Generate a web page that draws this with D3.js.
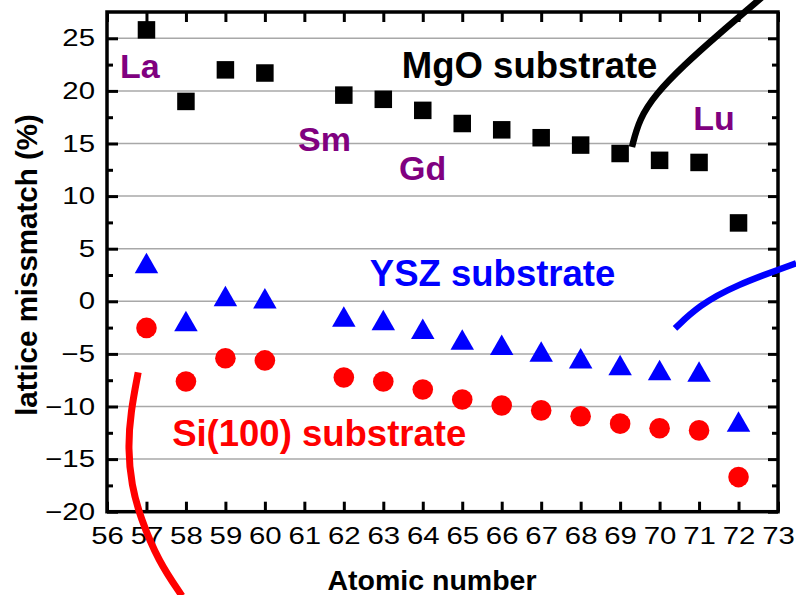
<!DOCTYPE html>
<html>
<head>
<meta charset="utf-8">
<script src="https://cdn.jsdelivr.net/npm/d3@7"></script>
<style>
  body { margin: 0; background: #fff; }
  svg { display: block; font-family: "Liberation Sans", Arial, sans-serif; }
</style>
</head>
<body>
<div id="chart"></div>
<script>
// data
const atomicNumbers = [57, 58, 59, 60, 62, 63, 64, 65, 66, 67, 68, 69, 70, 71, 72];
const mgoMismatch = [25.8, 19.0, 22.0, 21.7, 19.6, 19.2, 18.15, 16.9, 16.3, 15.55, 14.85, 14.05, 13.4, 13.2, 7.45];
const yszMismatch = [3.65, -1.87, 0.5, 0.3, -1.45, -1.77, -2.62, -3.64, -4.14, -4.77, -5.42, -6.05, -6.52, -6.68, -11.42];
const siMismatch = [-2.53, -7.63, -5.42, -5.62, -7.25, -7.63, -8.39, -9.34, -9.9, -10.37, -10.93, -11.63, -12.07, -12.27, -16.71];

const xTicks = d3.range(56, 74);
const yTicks = [-20, -15, -10, -5, 0, 5, 10, 15, 20, 25];
const yMinorTicks = [-17.5, -12.5, -7.5, -2.5, 2.5, 7.5, 12.5, 17.5, 22.5];

// element labels and substrate labels (data coords of text start / baseline)
const elementLabels = [
    {text: "La", x: 56.33, y: 21.26},
    {text: "Sm", x: 60.84, y: 14.33},
    {text: "Gd", x: 63.4, y: 11.57},
    {text: "Lu", x: 70.85, y: 16.32}
];
const substrateLabels = [
    {text: "MgO substrate", x: 63.47, y: 21.26, color: "#000000"},
    {text: "YSZ substrate", x: 62.66, y: 1.49, color: "#0000ff"},
    {text: "Si(100) substrate", x: 57.65, y: -13.72, color: "#ff0000"}
];

// hand drawn pointer curves (data coords)
const mgoCurve = [[69.3, 14.67], [69.48, 17.3], [69.9, 19.7], [70.6, 22.4], [71.5, 25.4], [72.5, 28.6], [73.0, 30.2]];
const yszCurve = [[70.39, -2.57], [71.0, -0.4], [71.9, 1.5], [73.46, 3.62]];
const siCurve = [[56.79, -6.76], [56.6, -10.5], [56.53, -14.0], [56.62, -17.5], [56.85, -20.6], [57.3, -24.7], [57.9, -28.0]];

const width = 796, height = 595;
const margin = {top: 12, right: 18, bottom: 83.3, left: 107};

const svg = d3.select("#chart")
    .append("svg")
    .attr("width", width)
    .attr("height", height);

const x = d3.scaleLinear()
    .domain([56, 73])
    .range([margin.left, width - margin.right]);

const y = d3.scaleLinear()
    .domain([-20, 27.5])
    .range([height - margin.bottom, margin.top]);

// gridlines
svg.append("g")
    .selectAll("line")
    .data(yTicks.filter(d => d > -20))
    .enter()
    .append("line")
        .attr("x1", x(56))
        .attr("x2", x(73))
        .attr("y1", d => y(d))
        .attr("y2", d => y(d))
        .attr("stroke", "#a8a8a8")
        .attr("stroke-width", 1.5);

// axes
const tickFont = 23.5;

const xAxis = svg.append("g")
    .attr("transform", `translate(0, ${y(-20)})`)
    .call(d3.axisBottom(x).tickValues(xTicks).tickSize(-10).tickPadding(16).tickFormat(d3.format("d")));

xAxis.selectAll("text")
    .attr("font-size", tickFont)
    .attr("fill", "#000")
    .each(function() {
        const t = d3.select(this);
        const yy = +t.attr("y");
        t.attr("y", null).attr("transform", `translate(0, ${yy}) scale(1.25, 1)`);
    });

const yAxis = svg.append("g")
    .attr("transform", `translate(${x(56)}, 0)`)
    .call(d3.axisLeft(y).tickValues(yTicks).tickSize(-11).tickPadding(12).tickFormat(d3.format("d")));

yAxis.selectAll("text")
    .attr("font-size", tickFont)
    .attr("fill", "#000")
    .each(function() {
        const t = d3.select(this);
        const xx = +t.attr("x");
        t.attr("x", null).attr("transform", `translate(${xx}, 0) scale(1.25, 1)`);
    });

svg.append("g")
    .attr("transform", `translate(${x(56)}, 0)`)
    .call(d3.axisLeft(y).tickValues(yMinorTicks).tickSize(-6).tickFormat(""));

svg.append("g")
    .attr("transform", `translate(${x(73)}, 0)`)
    .call(d3.axisRight(y).tickValues(yTicks).tickSize(-10).tickFormat(""));

svg.append("g")
    .attr("transform", `translate(${x(73)}, 0)`)
    .call(d3.axisRight(y).tickValues(yMinorTicks).tickSize(-6).tickFormat(""));

svg.append("g")
    .attr("transform", `translate(0, ${y(27.5)})`)
    .call(d3.axisTop(x).tickValues(xTicks).tickSize(-10).tickFormat(""));

svg.selectAll(".domain").remove();
svg.selectAll(".tick line").attr("stroke", "#000").attr("stroke-width", 3);

// frame
svg.append("rect")
    .attr("x", x(56))
    .attr("y", y(27.5))
    .attr("width", x(73) - x(56))
    .attr("height", y(-20) - y(27.5))
    .attr("fill", "none")
    .attr("stroke", "#000")
    .attr("stroke-width", 3.5);

// axis titles
svg.append("text")
    .attr("x", 432)
    .attr("y", 590)
    .attr("text-anchor", "middle")
    .attr("font-size", 28.5)
    .attr("font-weight", "bold")
    .text("Atomic number");

svg.append("text")
    .attr("transform", "translate(37, 265) rotate(-90)")
    .attr("text-anchor", "middle")
    .attr("font-size", 29.5)
    .attr("font-weight", "bold")
    .text("lattice missmatch (%)");

// markers
const mgo = atomicNumbers.map((n, i) => ({n: n, v: mgoMismatch[i]}));
const ysz = atomicNumbers.map((n, i) => ({n: n, v: yszMismatch[i]}));
const si = atomicNumbers.map((n, i) => ({n: n, v: siMismatch[i]}));

const sq = 17.5;
svg.append("g")
    .selectAll("rect")
    .data(mgo)
    .enter()
    .append("rect")
        .attr("x", d => x(d.n) - sq / 2)
        .attr("y", d => y(d.v) - sq / 2)
        .attr("width", sq)
        .attr("height", sq)
        .attr("fill", "#000");

const triW = 23.5, triH = 20.5;
svg.append("g")
    .selectAll("path")
    .data(ysz)
    .enter()
    .append("path")
        .attr("d", `M0,${-triH / 2}L${triW / 2},${triH / 2}L${-triW / 2},${triH / 2}Z`)
        .attr("transform", d => `translate(${x(d.n)}, ${y(d.v)})`)
        .attr("fill", "#0000ff");

svg.append("g")
    .selectAll("circle")
    .data(si)
    .enter()
    .append("circle")
        .attr("cx", d => x(d.n))
        .attr("cy", d => y(d.v))
        .attr("r", 10.3)
        .attr("fill", "#ff0000");

// pointer curves
const curve = d3.line()
    .x(d => x(d[0]))
    .y(d => y(d[1]))
    .curve(d3.curveBasis);

svg.append("path").attr("d", curve(mgoCurve)).attr("fill", "none").attr("stroke", "#000").attr("stroke-width", 6.5);
svg.append("path").attr("d", curve(yszCurve)).attr("fill", "none").attr("stroke", "#0000ff").attr("stroke-width", 6.5);
svg.append("path").attr("d", curve(siCurve)).attr("fill", "none").attr("stroke", "#ff0000").attr("stroke-width", 7);

// labels
svg.append("g")
    .selectAll("text")
    .data(elementLabels)
    .enter()
    .append("text")
        .attr("x", d => x(d.x))
        .attr("y", d => y(d.y))
        .attr("font-size", 34)
        .attr("font-weight", "bold")
        .attr("fill", "#800080")
        .text(d => d.text);

svg.append("g")
    .selectAll("text")
    .data(substrateLabels)
    .enter()
    .append("text")
        .attr("x", d => x(d.x))
        .attr("y", d => y(d.y))
        .attr("font-size", 36.5)
        .attr("font-weight", "bold")
        .attr("fill", d => d.color)
        .text(d => d.text);
</script>
</body>
</html>
